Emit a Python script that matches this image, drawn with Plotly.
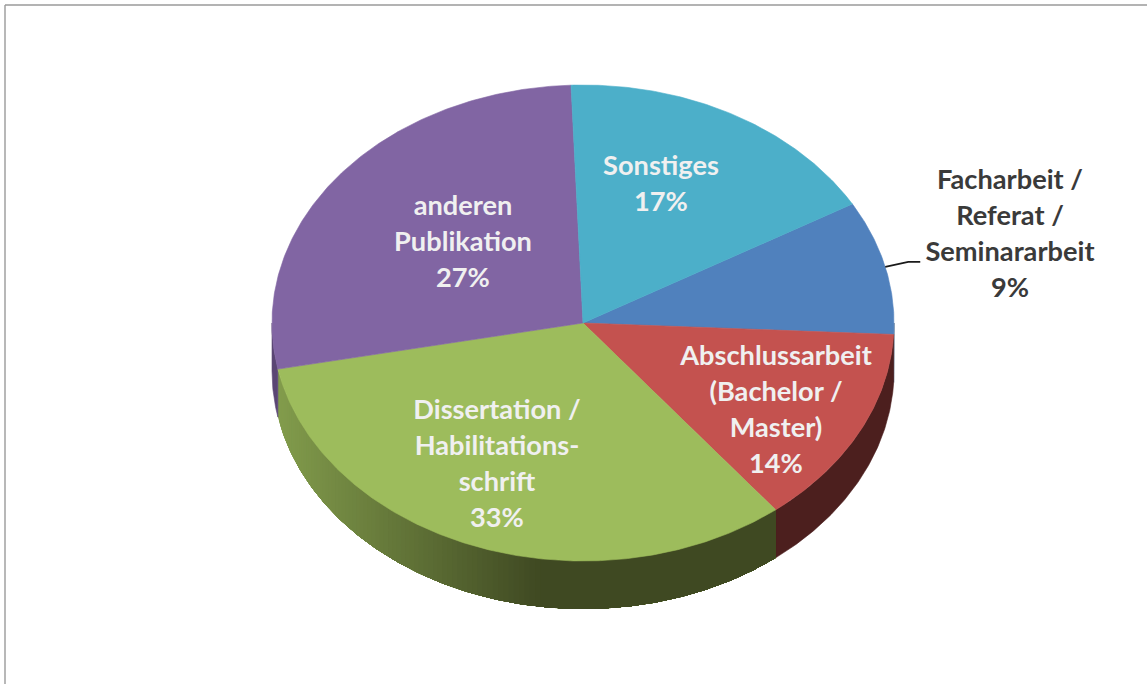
import math
import plotly.graph_objects as go

# --- data ---
categories = [
    "Facharbeit / Referat / Seminararbeit",
    "Abschlussarbeit (Bachelor / Master)",
    "Dissertation / Habilitations-schrift",
    "anderen Publikation",
    "Sonstiges",
]
values = [9.1, 13.6, 32.53, 27.49, 17.28]
label_lines = [
    ["Facharbeit /", "Referat /", "Seminararbeit"],
    ["Abschlussarbeit", "(Bachelor /", "Master)"],
    ["Dissertation /", "Habilitations-", "schrift"],
    ["anderen", "Publikation"],
    ["Sonstiges"],
]

# --- style / layout ---
top_colors = ["#5081bd", "#c4524f", "#9dbc5c", "#8165a3", "#4cafc9"]
wall_colors = ["#2f4d71", "#4c1f1e", None, "#5a4674", "#2d6c7e"]
text_colors = ["#3a3a3a", "#f0f0f0", "#f0f0f0", "#f0f0f0", "#f0f0f0"]
W, H = 1147, 684
CX, CY = 583, 323          # pie centre in picture pixels
RX, RY = 311, 238          # ellipse radii
DEPTH = 48
START = 30.0               # angle of first slice edge, degrees
LINE_STEP = 36
FONT_SIZE = 27.2
label_centres = [(1010, 236.5), (776, 412.5), (497, 466.5), (463, 244.5), (661, 186)]


def pt(angle, drop=0.0):
    a = math.radians(angle)
    return RX * math.cos(a), RY * math.sin(a) - drop


def arc(a0, a1, drop=0.0, step=0.5):
    n = max(2, int(abs(a1 - a0) / step) + 1)
    return [pt(a0 + (a1 - a0) * i / (n - 1), drop) for i in range(n)]


def lerp_hex(c0, c1, t):
    t = max(0.0, min(1.0, t))
    return "rgb(%d,%d,%d)" % tuple(round(c0[i] + (c1[i] - c0[i]) * t) for i in range(3))


total = sum(values)
edges = [START]
for v in values:
    edges.append(edges[-1] - 360 * v / total)

fig = go.Figure()


def add_poly(points, color, lw=0.6):
    xs = [p[0] for p in points] + [points[0][0]]
    ys = [p[1] for p in points] + [points[0][1]]
    fig.add_trace(go.Scatter(x=xs, y=ys, mode="lines", fill="toself", fillcolor=color,
                             line=dict(color=color, width=lw), hoverinfo="skip",
                             showlegend=False))


# side walls: only the part of each slice facing the viewer (angles -180..0)
for i in range(len(values)):
    a0, a1 = edges[i], edges[i + 1]
    spans = []
    for shift in (0, 360, -360):
        hi = min(a0 + shift, 0)
        lo = max(a1 + shift, -180)
        if hi > lo:
            spans.append((hi, lo))
    for hi, lo in spans:
        if wall_colors[i] is not None:
            add_poly(arc(hi, lo) + arc(lo, hi, DEPTH), wall_colors[i])
        else:
            # green wall: left-to-right light-to-dark sweep, each strip painted over the last
            a = lo
            while a < hi:
                x_mid = pt(a + 0.5)[0]
                t = (x_mid - (-305)) / (540 - 278)
                col = lerp_hex((130, 156, 76), (63, 73, 34), t)
                add_poly(arc(a, hi) + arc(hi, a, DEPTH), col, lw=0)
                if t >= 1:
                    break
                a += 1.0

# top faces
for i in range(len(values)):
    add_poly([(0.0, 0.0)] + arc(edges[i], edges[i + 1]), top_colors[i])

# leader line of the outside label, from the slice's mid angle
mx, my = pt((edges[0] + edges[1]) / 2)
fig.add_trace(go.Scatter(x=[mx, mx + 23, mx + 35], y=[my, my + 5, my + 5], mode="lines",
                         line=dict(color="#1a1a1a", width=1.8), hoverinfo="skip",
                         showlegend=False))

# labels, one text point per line so the line spacing is exact
for i, cat in enumerate(categories):
    lines = label_lines[i] + ["%d%%" % round(100 * values[i] / total)]
    cx, cy = label_centres[i]
    n = len(lines)
    xs = [cx - CX] * n
    ys = [CY - (cy + (j - (n - 1) / 2) * LINE_STEP) for j in range(n)]
    fig.add_trace(go.Scatter(x=xs, y=ys, mode="text", text=lines, textposition="middle center",
                             textfont=dict(family="Lato", size=FONT_SIZE, color=text_colors[i],
                                           weight="bold"),
                             hoverinfo="skip", showlegend=False, name=cat))

fig.update_layout(
    width=W, height=H, margin=dict(l=0, r=0, t=0, b=0),
    paper_bgcolor="white", plot_bgcolor="white", showlegend=False,
    xaxis=dict(range=[-CX, W - CX], visible=False, fixedrange=True),
    yaxis=dict(range=[CY - H, CY], visible=False, fixedrange=True),
    shapes=[
        dict(type="line", xref="paper", yref="paper", x0=5 / W, x1=1, y0=1 - 5 / H, y1=1 - 5 / H,
             line=dict(color="#9a9a9a", width=1.4)),
        dict(type="line", xref="paper", yref="paper", x0=5 / W, x1=5 / W, y0=0, y1=1 - 5 / H,
             line=dict(color="#9a9a9a", width=1.4)),
    ],
)
fig.write_html("out.html", config=dict(displayModeBar=False),
               post_script="document.body.style.margin='0';document.documentElement.style.overflow='hidden';")
